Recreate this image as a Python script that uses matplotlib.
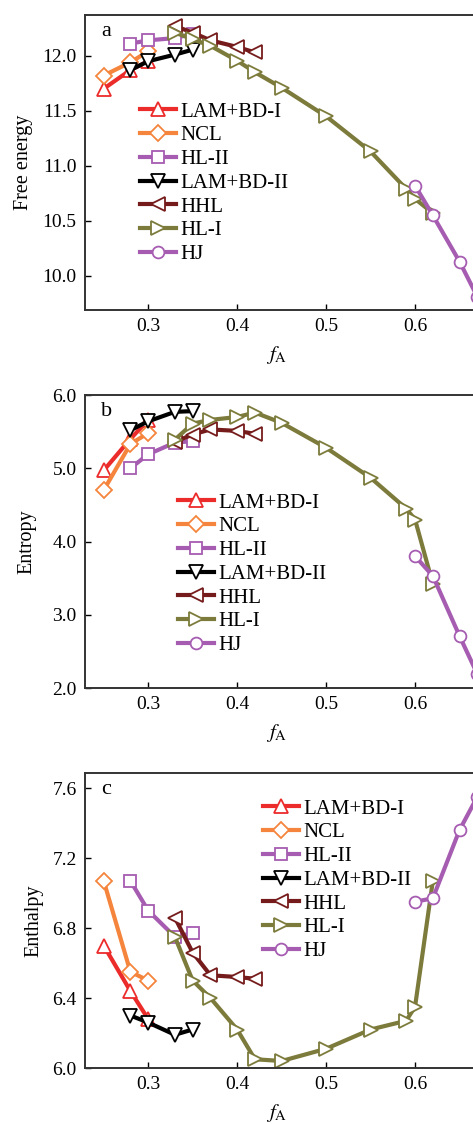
import numpy as np
import matplotlib
matplotlib.use('Agg')
from matplotlib import pyplot as plt

plt.rcParams['font.family'] = ['Liberation Serif', 'DejaVu Serif']
plt.rcParams['mathtext.fontset'] = 'stix'
plt.rcParams['font.size'] = 14

# phase names and x values (f_A)
names = ['LAM+BD-I', 'NCL', 'HL-II', 'LAM+BD-II', 'HHL', 'HL-I', 'HJ']
f_lambd1 = [0.25, 0.28, 0.30]
f_ncl = [0.25, 0.28, 0.30]
f_hl2 = [0.28, 0.30, 0.33, 0.35]
f_lambd2 = [0.28, 0.30, 0.33, 0.35]
f_hhl = [0.33, 0.35, 0.37, 0.40, 0.42]
f_hl1 = [0.33, 0.35, 0.37, 0.40, 0.42, 0.45, 0.50, 0.55, 0.59, 0.60, 0.62]
f_hj = [0.60, 0.62, 0.65, 0.67]

# free energy
F_lambd1 = [11.70, 11.87, 11.95]
F_ncl = [11.82, 11.94, 12.04]
F_hl2 = [12.11, 12.14, 12.16, 12.20]
F_lambd2 = [11.87, 11.95, 12.01, 12.055]
F_hhl = [12.27, 12.21, 12.14, 12.08, 12.03]
F_hl1 = [12.21, 12.15, 12.09, 11.955, 11.85, 11.71, 11.45, 11.13, 10.79, 10.70, 10.57]
F_hj = [10.82, 10.55, 10.13, 9.81]

# entropy
S_lambd1 = [4.97, 5.40, 5.66]
S_ncl = [4.70, 5.33, 5.48]
S_hl2 = [5.00, 5.19, 5.35, 5.37]
S_lambd2 = [5.52, 5.64, 5.77, 5.78]
S_hhl = [5.36, 5.46, 5.53, 5.51, 5.47]
S_hl1 = [5.39, 5.61, 5.66, 5.70, 5.76, 5.62, 5.28, 4.87, 4.45, 4.30, 3.42]
S_hj = [3.80, 3.53, 2.71, 2.19]

# enthalpy
H_lambd1 = [6.70, 6.44, 6.28]
H_ncl = [7.07, 6.55, 6.50]
H_hl2 = [7.07, 6.90, 6.75, 6.77]
H_lambd2 = [6.30, 6.26, 6.19, 6.22]
H_hhl = [6.86, 6.66, 6.53, 6.52, 6.51]
H_hl1 = [6.75, 6.50, 6.40, 6.22, 6.05, 6.04, 6.11, 6.22, 6.27, 6.35, 7.07]
H_hj = [6.95, 6.97, 7.36, 7.55]

colors = ['#ec2b2b', '#f5843c', '#a65db1', '#000000', '#761b1b', '#7c7b3b', '#a65db1']
markers = ['^', 'D', 's', 'v', '<', '>', 'o']
msizes = [10, 8, 8, 10, 10, 10, 8.5]

fx = [f_lambd1, f_ncl, f_hl2, f_lambd2, f_hhl, f_hl1, f_hj]
panels = [
    ('a', 'Free energy', [F_lambd1, F_ncl, F_hl2, F_lambd2, F_hhl, F_hl1, F_hj],
     (9.69, 12.37), np.arange(10.0, 12.01, 0.5), (15, 310), (140, 102), 33),
    ('b', 'Entropy', [S_lambd1, S_ncl, S_hl2, S_lambd2, S_hhl, S_hl1, S_hj],
     (2.0, 6.0), np.arange(2.0, 6.01, 1.0), (395, 688), (178, 493), 36),
    ('c', 'Enthalpy', [H_lambd1, H_ncl, H_hl2, H_lambd2, H_hhl, H_hl1, H_hj],
     (6.0, 7.686), np.arange(6.0, 7.61, 0.4), (773, 1068), (263, 799), 43),
]

W, H = 473, 1124
fig = plt.figure(figsize=(W / 100, H / 100), dpi=100)
left, right = 85, 504

for tag, ylab, ys, ylim, yt, (top, bot), (lx, ly), ylx in panels:
    ax = fig.add_axes([left / W, 1 - bot / H, (right - left) / W, (bot - top) / H])
    for i in range(len(names)):
        ax.plot(fx[i], ys[i], color=colors[i], lw=3, marker=markers[i], ms=msizes[i],
                mfc='white', mec=colors[i], mew=1.3, label=names[i])
    ax.set_xlim(0.229, 0.70)
    ax.set_ylim(*ylim)
    ax.set_xticks([0.3, 0.4, 0.5, 0.6])
    ax.set_xticklabels(['0.3', '0.4', '0.5', '0.6'])
    ax.set_yticks(yt)
    ax.set_yticklabels(['%.1f' % v for v in yt])
    ax.tick_params(direction='in', length=4, width=1, pad=6, labelsize=14)
    for s in ax.spines.values():
        s.set_linewidth(1.4)
        s.set_color('#333333')
    ax.set_ylabel(ylab, fontsize=14.5)
    ax.yaxis.set_label_coords(-(left - ylx) / (right - left), 0.5)
    ax.set_xlabel(r'$f_{\mathrm{A}}$', fontsize=15)
    ax.xaxis.set_label_coords((277 - left) / (right - left), -(344 - 310) / 295)
    ax.annotate(tag, xy=(0, 1), xycoords='axes fraction', xytext=(11.5, -12),
                textcoords='offset points', ha='left', va='center', fontsize=16)
    ax.legend(loc='upper left', bbox_to_anchor=(lx / W, 1 - ly / H),
              bbox_transform=fig.transFigure, frameon=False, borderpad=0,
              borderaxespad=0, handlelength=1.75, handletextpad=0.2,
              labelspacing=0.2, numpoints=1, fontsize=15)

fig.savefig('out.png', dpi=100)
